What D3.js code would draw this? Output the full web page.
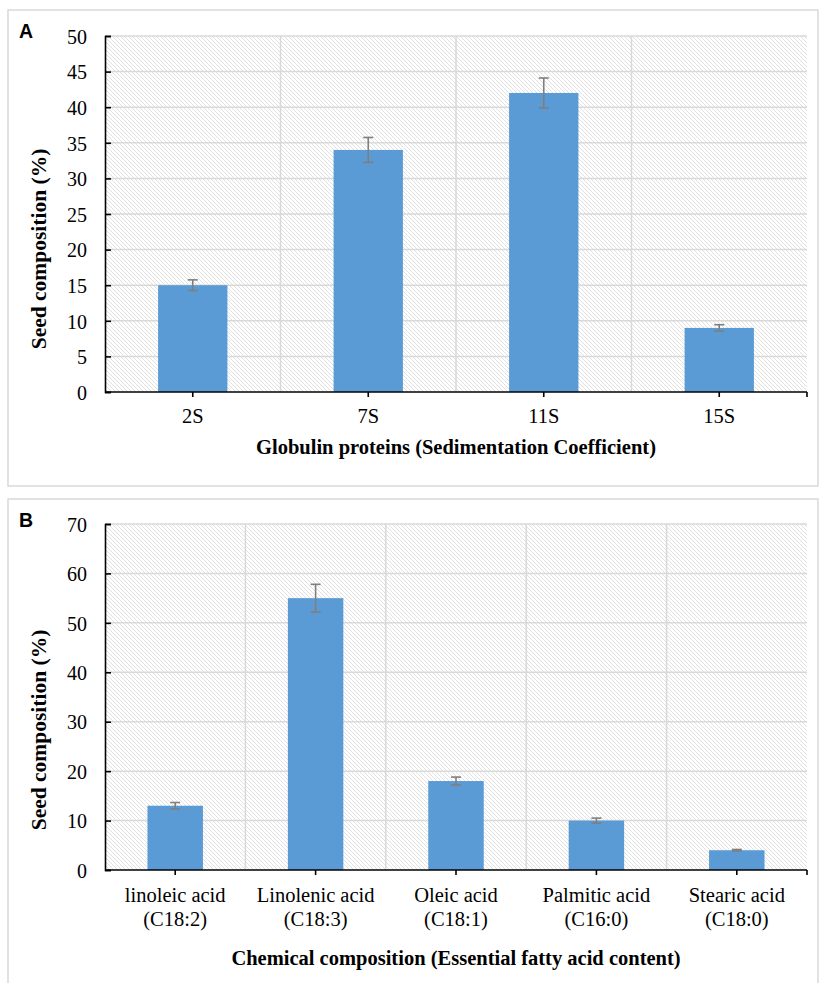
<!DOCTYPE html>
<html lang="en">
<head>
<meta charset="utf-8">
<title>Seed composition</title>
<script src="https://cdn.jsdelivr.net/npm/d3@7"></script>
<style>
  body { margin: 0; background: #fff; }
  text { font-family: "Liberation Serif", "Times New Roman", serif; fill: #000; }
</style>
</head>
<body>
<script>
// panel A data
var catsA = ["2S", "7S", "11S", "15S"];
var valsA = [15, 34, 42, 9];
var errA = [0.75, 1.75, 2.1, 0.45];
var titleA = "Globulin proteins (Sedimentation Coefficient)";

// panel B data
var catsB = [["linoleic acid", "(C18:2)"], ["Linolenic acid", "(C18:3)"], ["Oleic acid", "(C18:1)"],
             ["Palmitic acid", "(C16:0)"], ["Stearic acid", "(C18:0)"]];
var valsB = [13, 55, 18, 10, 4];
var errB = [0.65, 2.8, 0.8, 0.5, 0.15];
var titleB = "Chemical composition (Essential fatty acid content)";

var yTitle = "Seed composition (%)";

var svg = d3.select("body").append("svg")
    .attr("width", 821)
    .attr("height", 983);

var defs = svg.append("defs");
var pat = defs.append("pattern")
    .attr("id", "hatch")
    .attr("patternUnits", "userSpaceOnUse")
    .attr("width", 4).attr("height", 4);
pat.append("rect").attr("width", 4).attr("height", 4).attr("fill", "#fff");
pat.append("path")
    .attr("d", "M-1,-1L5,5M-1,3L1,5M3,-1L5,1")
    .attr("stroke", "#dcdcdc")
    .attr("stroke-width", 0.9);

function panel(o) {
  var g = svg.append("g");

  // outer box
  g.append("rect")
      .attr("x", o.box[0]).attr("y", o.box[1])
      .attr("width", o.box[2]).attr("height", o.box[3])
      .attr("fill", "none").attr("stroke", "#d9d9d9").attr("stroke-width", 1.5);

  g.append("text")
      .attr("x", 19).attr("y", o.box[1] + 28)
      .style("font-family", "'Liberation Sans', Arial, sans-serif")
      .style("font-weight", "bold").style("font-size", "19.5px")
      .text(o.letter);

  var x = d3.scaleBand().domain(d3.range(o.cats.length)).range([105, 807]);
  var y = d3.scaleLinear().domain([0, o.max]).range([o.bottom, o.top]);
  var ticks = d3.range(0, o.max + 1, o.step);

  g.append("rect")
      .attr("x", 105).attr("y", o.top)
      .attr("width", 702).attr("height", o.bottom - o.top)
      .attr("fill", "url(#hatch)");

  // gridlines
  g.selectAll(".hg").data(ticks.slice(1)).enter().append("line")
      .attr("x1", 105).attr("x2", 807)
      .attr("y1", function(d) { return y(d); }).attr("y2", function(d) { return y(d); })
      .attr("stroke", "#d9d9d9").attr("stroke-width", 1.5);
  g.selectAll(".vg").data(d3.range(1, o.cats.length)).enter().append("line")
      .attr("x1", function(d) { return x(d); }).attr("x2", function(d) { return x(d); })
      .attr("y1", o.top).attr("y2", o.bottom)
      .attr("stroke", "#d9d9d9").attr("stroke-width", 1.5);

  // bars
  var bw = x.bandwidth() * 0.395;
  g.selectAll(".bar").data(o.vals).enter().append("rect")
      .attr("x", function(d, i) { return x(i) + x.bandwidth() / 2 - bw / 2; })
      .attr("y", function(d) { return y(d); })
      .attr("width", bw)
      .attr("height", function(d) { return o.bottom - y(d); })
      .attr("fill", "#5b9bd5");

  // error bars
  var eb = g.selectAll(".err").data(o.vals).enter().append("g")
      .attr("stroke", "#7f7f7f").attr("stroke-width", 1.6);
  eb.append("line")
      .attr("x1", function(d, i) { return x(i) + x.bandwidth() / 2; })
      .attr("x2", function(d, i) { return x(i) + x.bandwidth() / 2; })
      .attr("y1", function(d, i) { return y(d + o.err[i]); })
      .attr("y2", function(d, i) { return y(d - o.err[i]); });
  [1, -1].forEach(function(s) {
    eb.append("line")
        .attr("x1", function(d, i) { return x(i) + x.bandwidth() / 2 - 5; })
        .attr("x2", function(d, i) { return x(i) + x.bandwidth() / 2 + 5; })
        .attr("y1", function(d, i) { return y(d + s * o.err[i]); })
        .attr("y2", function(d, i) { return y(d + s * o.err[i]); });
  });

  // y axis
  var ya = g.append("g")
      .attr("transform", "translate(105,0)")
      .call(d3.axisLeft(y).tickValues(ticks).tickSize(-6).tickPadding(18));
  ya.attr("font-family", "Liberation Serif").attr("font-size", 20);
  ya.select(".domain").attr("stroke", "#000").attr("stroke-width", 1.6);
  ya.selectAll(".tick line").attr("stroke", "#000").attr("stroke-width", 1.6);
  ya.selectAll(".tick text")
      .attr("font-family", "Liberation Serif")
      .style("font-family", "'Liberation Serif', serif").style("font-size", "20px")
      .attr("dy", "0.36em");

  // x axis
  g.append("line")
      .attr("x1", 105).attr("x2", 807).attr("y1", o.bottom).attr("y2", o.bottom)
      .attr("stroke", "#000").attr("stroke-width", 1.6);
  var tx = d3.range(o.cats.length).map(function(i) { return x(i) + x.bandwidth() / 2; }).concat([807]);
  g.selectAll(".xt").data(tx).enter().append("line")
      .attr("x1", function(d) { return d; }).attr("x2", function(d) { return d; })
      .attr("y1", o.bottom).attr("y2", o.bottom + 5)
      .attr("stroke", "#000").attr("stroke-width", 1.6);

  var xl = g.selectAll(".xl").data(o.cats).enter().append("text")
      .attr("text-anchor", "middle")
      .attr("x", function(d, i) { return x(i) + x.bandwidth() / 2; })
      .attr("y", o.labelY)
      .style("font-size", "20.5px");
  xl.each(function(d) {
    var lines = Array.isArray(d) ? d : [d];
    var t = d3.select(this);
    lines.forEach(function(l, k) {
      t.append("tspan")
          .attr("x", t.attr("x"))
          .attr("dy", k === 0 ? 0 : 24)
          .text(l);
    });
  });

  g.append("text")
      .attr("text-anchor", "middle")
      .attr("x", 456).attr("y", o.titleY)
      .style("font-weight", "bold").style("font-size", "20.5px")
      .text(o.title);

  g.append("text")
      .attr("text-anchor", "middle")
      .attr("transform", "translate(46," + o.yTitleC + ") rotate(-90)")
      .style("font-weight", "bold").style("font-size", "21.5px")
      .text(yTitle);
}

panel({ letter: "A", box: [8, 10, 810, 476], cats: catsA, vals: valsA, err: errA,
        max: 50, step: 5, top: 36, bottom: 392, labelY: 423, titleY: 454,
        yTitleC: 249, title: titleA });

panel({ letter: "B", box: [8, 499, 810, 500], cats: catsB, vals: valsB, err: errB,
        max: 70, step: 10, top: 524, bottom: 870, labelY: 902, titleY: 965,
        yTitleC: 730, title: titleB });
</script>
</body>
</html>
